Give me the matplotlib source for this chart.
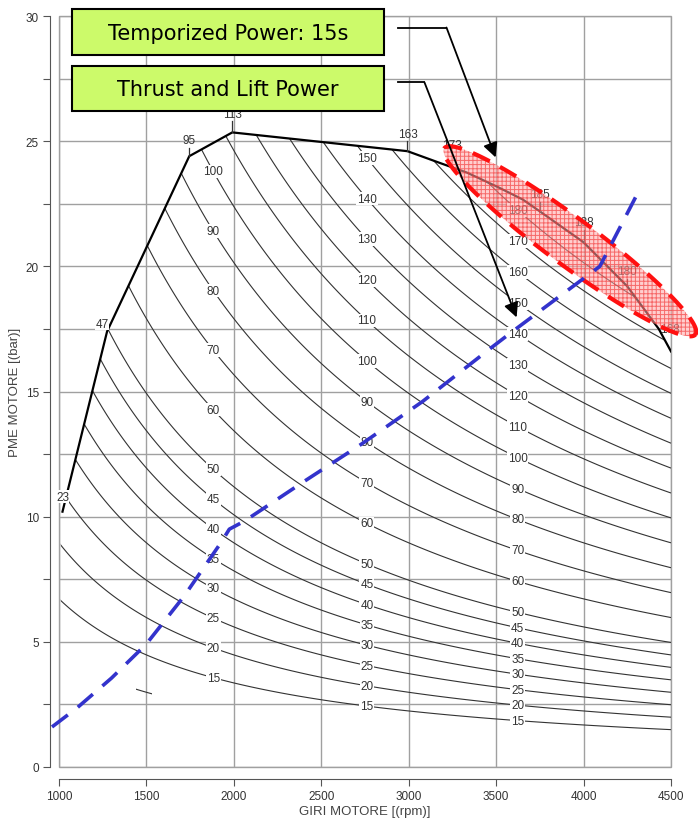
import matplotlib.pyplot as plt
import numpy as np
from matplotlib.patches import Polygon, Rectangle

# curva di piena potenza (giri [rpm], pme [bar])
env_rpm = [1020, 1275, 1745, 1991, 2993, 3190, 3331, 3503, 3652, 3749, 4000, 4250, 4430, 4500]
env_pme = [10.2, 17.4, 24.4, 25.35, 24.6, 24.1, 23.75, 23.19, 22.67, 22.2, 20.96, 19.2, 17.5, 16.6]

# potenze segnate sulla curva [kW]
env_lab_rpm = [1020, 1275, 1745, 1991, 2993, 3190, 3749, 4000, 4250, 4430]
env_lab_pme = [10.2, 17.4, 24.4, 25.35, 24.6, 24.1, 22.2, 20.96, 19.2, 17.5]
env_lab_kw = [23, 47, 95, 113, 163, 173, 185, 188, 180, 168]

# curve iso-potenza [kW]
iso_kw = [15, 20, 25, 30, 35, 40, 45, 50, 60, 70, 80, 90, 100,
          110, 120, 130, 140, 150, 160, 170, 180]
cilindrata = 2.68  # litri, P = pme * n * V / 1200

# etichette delle curve, tre colonne
col_a_kw = [100, 90, 80, 70, 60, 50, 45, 40, 35, 30, 25, 20, 15]
col_b_kw = [150, 140, 130, 120, 110, 100, 90, 80, 70, 60, 50, 45, 40, 35, 30, 25, 20, 15]
col_c_kw = [180, 170, 160, 150, 140, 130, 120, 110, 100, 90, 80, 70, 60, 50, 45, 40, 35, 30, 25, 20, 15]
col_rpm = [1882, 2761, 3623]

# linea blu tratteggiata
blue_rpm = [960, 1103, 1300, 1498, 1716, 1928, 1974, 2060, 2400, 2730, 3079, 3463, 3594, 4093, 4330]
blue_pme = [1.6, 2.36, 3.55, 4.9, 6.83, 8.98, 9.5, 9.82, 11.4, 12.9, 14.6, 16.7, 17.4, 20.0, 23.2]

FONT = 'Liberation Sans'
fig = plt.figure(figsize=(6.98, 8.2), dpi=100)
ax = fig.add_axes([59 / 698, 1 - 768 / 820, 612 / 698, 751 / 820])
ax.set_xlim(1000, 4500)
ax.set_ylim(0, 30)

# griglia e cornice
ax.set_xticks(np.arange(1000, 4501, 500))
ax.set_yticks(np.arange(0, 31, 5))
ax.set_yticks(np.arange(2.5, 30, 5), minor=True)
ax.grid(True, which='both', color='#a0a0a0', lw=1.0, zorder=0)
ax.set_axisbelow(True)
ax.add_patch(Rectangle((0, 0), 1, 1, transform=ax.transAxes, fill=False,
                       ec='#a0a0a0', lw=1.0, clip_on=False, zorder=0.5))
for s in ['top', 'right']:
    ax.spines[s].set_visible(False)
ax.spines['left'].set_position(('outward', 6.5))
ax.spines['bottom'].set_position(('outward', 8.5))
ax.spines['left'].set_bounds(0, 30)
ax.spines['bottom'].set_bounds(1000, 4500)
for s in ['left', 'bottom']:
    ax.spines[s].set_color('#555555')
ax.tick_params(which='both', direction='out', length=5, width=0.8, color='#555555',
               labelsize=8.5, labelcolor='#333333', pad=3)
for lab in ax.get_xticklabels() + ax.get_yticklabels():
    lab.set_fontfamily(FONT)
ax.set_xlabel('GIRI MOTORE [(rpm)]', fontsize=9.5, color='#444444', family=FONT, labelpad=2)
ax.set_ylabel('PME MOTORE [(bar)]', fontsize=9.5, color='#444444', family=FONT, labelpad=3)

# campo di potenza e curve iso-potenza
rr, pp = np.meshgrid(np.linspace(1000, 4500, 700), np.linspace(0, 30, 700))
kw = pp * rr * cilindrata / 1200
clip = Polygon([(1010, 0), (1010, env_pme[0])] + list(zip(env_rpm, env_pme)) + [(4500, 0)],
               closed=True, transform=ax.transData)
cs = ax.contour(rr, pp, kw, levels=iso_kw, colors='#333333', linewidths=0.8, zorder=2)
cs.set_clip_path(clip)
cs10 = ax.contour(rr, pp, kw, levels=[10], colors='#333333', linewidths=0.8, zorder=2)
cs10.set_clip_path(Rectangle((1440, 0), 90, 30, transform=ax.transData))

for rpm, levels in zip(col_rpm, [col_a_kw, col_b_kw, col_c_kw]):
    for p in levels:
        ax.text(rpm, p * 1200 / (cilindrata * rpm), str(p), ha='center', va='center',
                fontsize=8.5, color='#333333', family=FONT, zorder=3,
                bbox=dict(fc='white', ec='none', pad=0.6))

# curva di piena potenza
ax.plot(env_rpm, env_pme, color='black', lw=1.6, zorder=4, solid_joinstyle='miter')
lab_off = [(0, 0.6), (-30, 0.3), (0, 0.63), (0, 0.75), (0, 0.7),
           (55, 0.73), (0, 0.67), (0, 0.8), (0, 0.6), (63, 0.0)]
lab_tick = [False, False, True, True, True, False, True, True, True, False]
for x, y, p, (dx, dy), tk in zip(env_lab_rpm, env_lab_pme, env_lab_kw, lab_off, lab_tick):
    if tk:
        ax.plot([x, x], [y, y + dy - 0.3], color='#333333', lw=0.9, zorder=4)
    ax.text(x + dx, y + dy, str(p), ha='center', va='center', fontsize=8.5,
            color='#333333', family=FONT, zorder=5,
            bbox=dict(fc='white', ec='none', pad=0.3) if p in (23, 47) else None)

# ellisse rossa
t = np.linspace(0, 2 * np.pi, 300)
ex = 3922 + 718 * np.cos(t) + 80 * np.sin(t)
ey = 21.0 - 3.72 * np.cos(t) + 0.76 * np.sin(t)
plt.rcParams['hatch.linewidth'] = 0.7
ax.add_patch(Polygon(np.column_stack([ex, ey]), closed=True, fc=(1, 0.66, 0.66, 0.55),
                     hatch='++++', ec=(0.95, 0.2, 0.2, 0.65), lw=0, zorder=6, clip_on=False))
ax.add_patch(Polygon(np.column_stack([ex, ey]), closed=True, fill=False, ec='#ff1010',
                     lw=3.0, ls=(0, (4.5, 2.8)), zorder=7, clip_on=False))

# linea blu
ax.plot(blue_rpm, blue_pme, color='#3333cc', lw=2.6, ls=(0, (5.5, 3.5)),
        zorder=8, clip_on=False)

# riquadri e frecce
boxes = [("Temporized Power: 15s", 30.26, (2936, 29.54), (3216, 29.54), (3497, 24.35)),
         ("Thrust and Lift Power", 28.02, (2936, 27.35), (3090, 27.35), (3617, 17.96))]
for text, top, p0, p1, p2 in boxes:
    ax.add_patch(Rectangle((1074, top - 1.8), 1787, 1.8, fc='#ccfa6a', ec='black',
                           lw=1.5, zorder=9, clip_on=False))
    ax.text(1967, top - 0.92, text, ha='center', va='center', fontsize=15,
            family='DejaVu Sans', color='black', zorder=10, clip_on=False)
    ax.plot([p0[0], p1[0]], [p0[1], p1[1]], color='black', lw=1.3, zorder=9, clip_on=False)
    ax.annotate('', xy=p2, xytext=p1, zorder=9,
                arrowprops=dict(arrowstyle='-|>', color='black', lw=1.3,
                                mutation_scale=22, shrinkA=0, shrinkB=0))

fig.savefig('out.png', dpi=100)
